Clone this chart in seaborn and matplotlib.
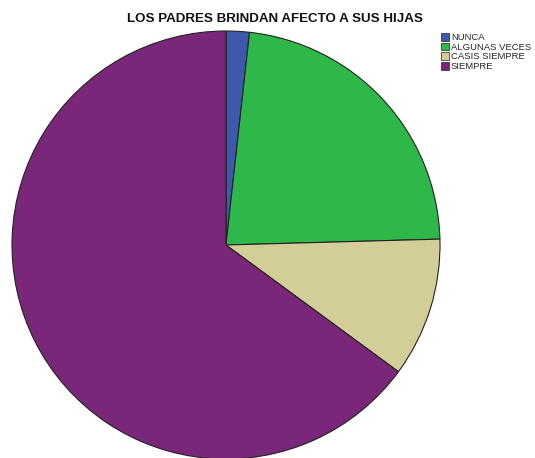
import matplotlib
matplotlib.use("Agg")
import matplotlib.pyplot as plt
import seaborn as sns
from matplotlib.patches import Patch

categories = ["NUNCA", "ALGUNAS VECES", "CASIS SIEMPRE", "SIEMPRE"]
counts = [1, 13, 6, 37]
colors = ["#3E58AC", "#2EB84A", "#D3CE97", "#7B2779"]
title = "LOS PADRES BRINDAN AFECTO A SUS HIJAS"

sns.set_style("white")
plt.rcParams["font.family"] = ["Liberation Sans", "DejaVu Sans"]

W, H = 535, 458
fig = plt.figure(figsize=(W / 100, H / 100), dpi=100)
cx, cy, r = 226, 245, 214
ax = fig.add_axes([(cx - r) / W, (H - cy - r) / H, 2 * r / W, 2 * r / H])
ax.pie(counts, colors=sns.color_palette(colors), startangle=90, counterclock=False,
       radius=1, wedgeprops=dict(edgecolor="#222222", linewidth=0.8))
ax.set_xlim(-1, 1)
ax.set_ylim(-1, 1)
ax.set_aspect("equal")
ax.axis("off")

fig.text(275 / W, 1 - 19 / H, title, ha="center", va="center", fontsize=9.6,
         fontweight="bold", color="#111111")

handles = [Patch(facecolor=c, edgecolor="#222222", linewidth=0.5) for c in colors]
fig.legend(handles, categories, loc="upper left", bbox_to_anchor=(441 / W, 1 - 33 / H),
           frameon=False, fontsize=6.8, handlelength=0.8, handleheight=0.9,
           handletextpad=0.25, labelspacing=0.05, borderpad=0, borderaxespad=0)

fig.savefig("out.png", dpi=100)
